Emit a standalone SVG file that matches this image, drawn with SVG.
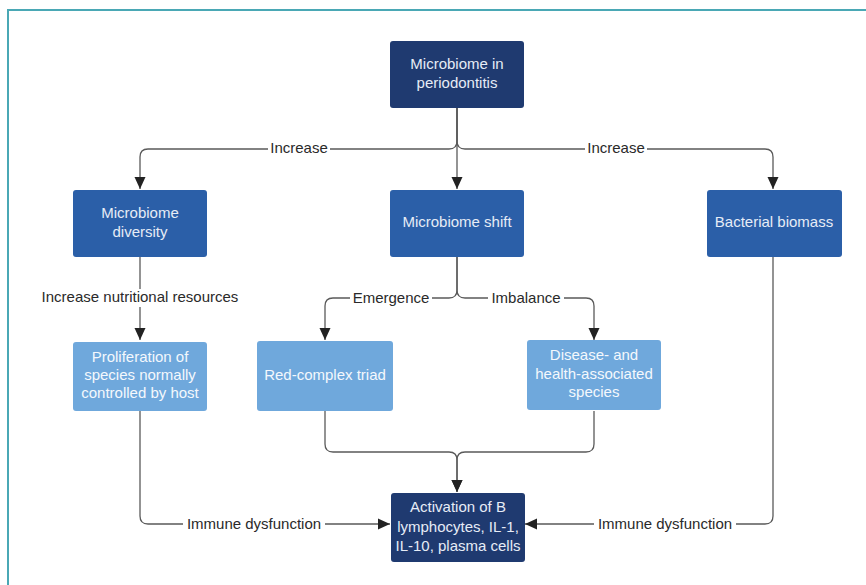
<svg xmlns="http://www.w3.org/2000/svg" width="866" height="585" viewBox="0 0 866 585">
<defs>
<marker id="arr" markerUnits="userSpaceOnUse" markerWidth="12" markerHeight="12" viewBox="0 0 12 12" refX="12" refY="6" orient="auto">
<path d="M0,0.5 L12,6 L0,11.5 z" fill="#222"/>
</marker>
</defs>
<style>
.dark{fill:#1f3a70}
.mid{fill:#2b5fa8}
.light{fill:#6fa8dc}
.nt{font-family:"Liberation Sans",Arial,sans-serif;font-size:15px;text-anchor:middle;fill:#e6ecf6}
.lt{font-family:"Liberation Sans",Arial,sans-serif;font-size:15px;text-anchor:middle;fill:#f4f8fd}
.lbl{font-family:"Liberation Sans",Arial,sans-serif;font-size:15px;text-anchor:middle;fill:#2a2a2a}
.c{fill:none;stroke:#5a5a5a;stroke-width:1.3}
.bg{fill:#ffffff}
</style>
<rect x="0" y="0" width="866" height="585" fill="#ffffff"/>
<rect x="8" y="10" width="870" height="590" fill="none" stroke="#4aa8b5" stroke-width="2"/>
<g id="connectors">
<path class="c" d="M457,108 V141 Q457,149 449,149 H148 Q140,149 140,157 V189" marker-end="url(#arr)"/>
<path class="c" d="M457,108 V141 Q457,149 465,149 H765 Q773,149 773,157 V189" marker-end="url(#arr)"/>
<path class="c" d="M457,108 V189" marker-end="url(#arr)"/>
<path class="c" d="M140,257 V340" marker-end="url(#arr)"/>
<path class="c" d="M457,257 V290 Q457,298 449,298 H333 Q325,298 325,306 V340" marker-end="url(#arr)"/>
<path class="c" d="M457,257 V290 Q457,298 465,298 H586 Q594,298 594,306 V340" marker-end="url(#arr)"/>
<path class="c" d="M325,411 V444 Q325,452 333,452 H449 Q457,452 457,460 V492" marker-end="url(#arr)"/>
<path class="c" d="M594,411 V444 Q594,452 586,452 H465 Q457,452 457,460 V492" marker-end="url(#arr)"/>
<path class="c" d="M140,411 V516 Q140,524 148,524 H390" marker-end="url(#arr)"/>
<path class="c" d="M773,257 V516 Q773,524 765,524 H525" marker-end="url(#arr)"/>
<rect class="bg" x="268" y="140" width="62" height="18"/>
<text class="lbl" x="299" y="153">Increase</text>
<rect class="bg" x="585" y="140" width="62" height="18"/>
<text class="lbl" x="616" y="153">Increase</text>
<rect class="bg" x="40" y="289" width="200" height="18"/>
<text class="lbl" x="140" y="302">Increase nutritional resources</text>
<rect class="bg" x="350" y="290" width="82" height="18"/>
<text class="lbl" x="391" y="303">Emergence</text>
<rect class="bg" x="488" y="290" width="76" height="18"/>
<text class="lbl" x="526" y="303">Imbalance</text>
<rect class="bg" x="183" y="516" width="142" height="18"/>
<text class="lbl" x="254" y="529">Immune dysfunction</text>
<rect class="bg" x="594" y="516" width="142" height="18"/>
<text class="lbl" x="665" y="529">Immune dysfunction</text>
</g>
<g id="n-top">
<rect class="dark" x="390" y="41" width="134" height="67" rx="3"/>
<text class="nt" x="457" y="69">Microbiome in</text>
<text class="nt" x="457" y="88">periodontitis</text>
</g>
<g id="n-diversity">
<rect class="mid" x="73" y="190" width="134" height="67" rx="3"/>
<text class="nt" x="140" y="218">Microbiome</text>
<text class="nt" x="140" y="237">diversity</text>
</g>
<g id="n-shift">
<rect class="mid" x="390" y="190" width="134" height="67" rx="3"/>
<text class="nt" x="457" y="227">Microbiome shift</text>
</g>
<g id="n-biomass">
<rect class="mid" x="707" y="190" width="135" height="67" rx="3"/>
<text class="nt" x="774" y="227">Bacterial biomass</text>
</g>
<g id="n-prolif">
<rect class="light" x="73" y="342" width="134" height="69" rx="3"/>
<text class="lt" x="140" y="362">Proliferation of</text>
<text class="lt" x="140" y="380">species normally</text>
<text class="lt" x="140" y="398">controlled by host</text>
</g>
<g id="n-red">
<rect class="light" x="257" y="341" width="136" height="70" rx="3"/>
<text class="lt" x="325" y="380">Red-complex triad</text>
</g>
<g id="n-disease">
<rect class="light" x="527" y="340" width="134" height="70" rx="3"/>
<text class="lt" x="594" y="360">Disease- and</text>
<text class="lt" x="594" y="379">health-associated</text>
<text class="lt" x="594" y="397">species</text>
</g>
<g id="n-activation">
<rect class="dark" x="391" y="493" width="134" height="69" rx="3"/>
<text class="nt" x="458" y="512">Activation of B</text>
<text class="nt" x="458" y="532">lymphocytes, IL-1,</text>
<text class="nt" x="458" y="551">IL-10, plasma cells</text>
</g>
</svg>
